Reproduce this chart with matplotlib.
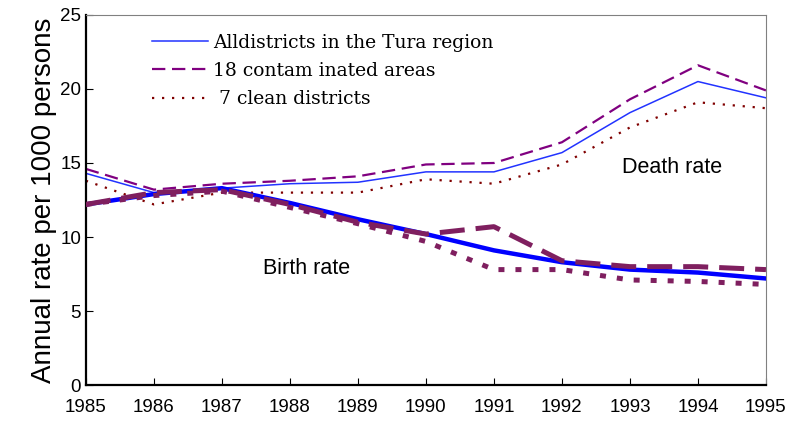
import matplotlib.pyplot as plt

years = [1985, 1986, 1987, 1988, 1989, 1990, 1991, 1992, 1993, 1994, 1995]

# death rates per 1000
death_all = [14.3, 13.0, 13.3, 13.6, 13.7, 14.4, 14.4, 15.7, 18.4, 20.5, 19.4]
death_contam = [14.6, 13.2, 13.6, 13.8, 14.1, 14.9, 15.0, 16.4, 19.3, 21.6, 19.9]
death_clean = [13.8, 12.2, 13.0, 13.0, 13.0, 13.9, 13.6, 14.9, 17.4, 19.1, 18.7]

# birth rates per 1000
birth_all = [12.2, 12.9, 13.3, 12.3, 11.2, 10.2, 9.1, 8.3, 7.8, 7.6, 7.2]
birth_contam = [12.2, 13.0, 13.2, 12.2, 11.0, 10.2, 10.7, 8.4, 8.0, 8.0, 7.8]
birth_clean = [12.2, 12.8, 13.1, 12.0, 10.9, 9.7, 7.8, 7.8, 7.1, 7.0, 6.8]

labels = ['Alldistricts in the Tura region', '18 contam inated areas', ' 7 clean districts']

fig = plt.figure(figsize=(7.88, 4.26), dpi=100)
ax = fig.add_axes([0.109, 0.096, 0.863, 0.869])

ax.plot(years, birth_all, color='#0000ff', lw=3.2, zorder=3)
ax.plot(years, birth_contam, color='#7f1f5f', lw=3.6, dashes=(5, 2.2), zorder=4)
ax.plot(years, birth_clean, color='#7f1f5f', lw=3.6, dashes=(1.2, 2.2), zorder=4)

l1, = ax.plot(years, death_all, color='#2233ff', lw=1.1)
l2, = ax.plot(years, death_contam, color='#800080', lw=1.6, dashes=(6, 3))
l3, = ax.plot(years, death_clean, color='#800000', lw=1.6, dashes=(1, 3.5))

leg = ax.legend([l1, l2, l3], labels, loc='upper left', bbox_to_anchor=(0.072, 0.995),
                frameon=False, handlelength=3.0, handletextpad=0.25, labelspacing=0.55,
                prop={'family': 'DejaVu Serif', 'size': 13.5})

ax.text(1992.88, 14.7, 'Death rate', fontsize=15.5, family='Liberation Sans', va='center')
ax.text(1987.6, 7.9, 'Birth rate', fontsize=15.5, family='Liberation Sans', va='center')

ax.set_xlim(1985, 1995)
ax.set_ylim(0, 25)
ax.set_xticks(years)
ax.set_yticks([0, 5, 10, 15, 20, 25])
ax.tick_params(direction='in', length=5, labelsize=13.5)
for lab in ax.get_xticklabels() + ax.get_yticklabels():
    lab.set_family('Liberation Sans')
ax.tick_params(axis='x', pad=10)
ax.set_ylabel('Annual rate per 1000 persons', fontsize=20, family='Liberation Sans', labelpad=2)

ax.spines['left'].set_linewidth(1.6)
ax.spines['bottom'].set_linewidth(1.6)
ax.spines['top'].set_color('#808080')
ax.spines['right'].set_color('#808080')

fig.savefig('out.png', dpi=100)
